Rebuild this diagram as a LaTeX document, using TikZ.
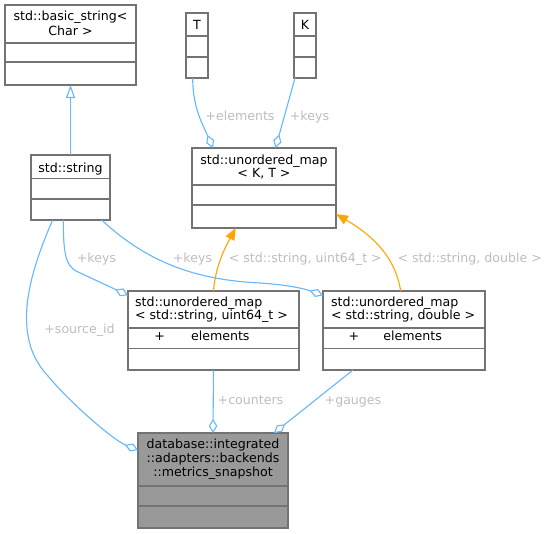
\documentclass[tikz,border=0pt]{standalone}
\usepackage{fontspec}
\setmainfont{DejaVu Sans}
\usetikzlibrary{arrows.meta,calc}
\definecolor{boxgray}{HTML}{737373}
\definecolor{boxfillgray}{HTML}{999999}
\definecolor{edgeblue}{HTML}{63B8FF}
\definecolor{tmplorange}{HTML}{FFA500}
\definecolor{labelgray}{HTML}{BEBEBE}
\newcommand{\hdivider}[2]{\draw[divline] ($(#1.north west)+(0,#2)$) -- ($(#1.north east)+(0,#2)$);}
\begin{document}
\begin{tikzpicture}[x=1pt,y=-1pt,
  box/.style={draw=boxgray, line width=1.2pt, fill=white, inner sep=0pt, outer sep=0pt, anchor=north west},
  divline/.style={draw=boxgray, line width=1.2pt},
  txt/.style={inner sep=0pt, outer sep=0pt, font=\fontsize{12.6}{13.8}\selectfont, text=black},
  ctxt/.style={txt, anchor=base},
  ltxt/.style={txt, anchor=base west},
  lbl/.style={txt, anchor=base, text=labelgray},
  agg/.style={draw=edgeblue, line width=1.1pt, -{Diamond[fill=white, length=14pt, width=8.5pt]}},
  inh/.style={draw=edgeblue, line width=1.1pt, -{Triangle[fill=white, length=13pt, width=9pt]}},
  tmpl/.style={draw=tmplorange, line width=1.1pt, -{Triangle[fill=tmplorange, length=12pt, width=9.5pt]}},
]
\fill[white] (0,0) rectangle (549,533);
\useasboundingbox (0,0) rectangle (549,533);

% boxes
\node[box, minimum width=131pt, minimum height=80pt] (bs) at (5,5) {};
\hdivider{bs}{38}\hdivider{bs}{57}
\node[ctxt] (bst1) at ($(bs.north)+(0,15.5)$) {std::basic\_string<};
\node[ctxt] (bst2) at ($(bs.north)+(0,30)$) {Char >};

\node[box, minimum width=22pt, minimum height=65pt] (tt) at (186,13) {};
\hdivider{tt}{23}\hdivider{tt}{44}
\node[ctxt] (ttt) at ($(tt.north)+(0,16)$) {T};

\node[box, minimum width=22pt, minimum height=65pt] (kk) at (294,13) {};
\hdivider{kk}{23}\hdivider{kk}{44}
\node[ctxt] (kkt) at ($(kk.north)+(0,16)$) {K};

\node[box, minimum width=79pt, minimum height=65pt] (str) at (31,155) {};
\hdivider{str}{23.5}\hdivider{str}{44}
\node[ctxt] (strt) at ($(str.north)+(0,17.3)$) {std::string};

\node[box, minimum width=144pt, minimum height=80pt] (kt) at (192,148) {};
\hdivider{kt}{37}\hdivider{kt}{57}
\node[ctxt] (ktt1) at ($(kt.north)+(0,16)$) {std::unordered\_map};
\node[ctxt] (ktt2) at ($(kt.north)+(0,29.7)$) {< K, T >};

\node[box, minimum width=171pt, minimum height=79pt] (m1) at (128,291) {};
\hdivider{m1}{37}\hdivider{m1}{57.3}
\node[ltxt] (m1t1) at ($(m1.north west)+(7,15.3)$) {std::unordered\_map};
\node[ltxt] (m1t2) at ($(m1.north west)+(7,28.7)$) {< std::string, uint64\_t >};
\node[ltxt] (m1p) at ($(m1.north west)+(26.3,49.7)$) {+};
\node[ltxt] (m1e) at ($(m1.north west)+(63,49.7)$) {elements};

\node[box, minimum width=162pt, minimum height=79pt] (m2) at (323,291) {};
\hdivider{m2}{37}\hdivider{m2}{57.3}
\node[ltxt] (m2t1) at ($(m2.north west)+(8,15.3)$) {std::unordered\_map};
\node[ltxt] (m2t2) at ($(m2.north west)+(8,28.7)$) {< std::string, double >};
\node[ltxt] (m2p) at ($(m2.north west)+(25.5,49.7)$) {+};
\node[ltxt] (m2e) at ($(m2.north west)+(60.3,49.7)$) {elements};

\node[box, fill=boxfillgray, draw=boxgray, minimum width=150pt, minimum height=95pt] (ms) at (138,433) {};
\hdivider{ms}{53}\hdivider{ms}{73}
\node[ctxt] (mst1) at ($(ms.north)+(0,15.3)$) {database::integrated};
\node[ctxt] (mst2) at ($(ms.north)+(0,29.3)$) {::adapters::backends};
\node[ctxt] (mst3) at ($(ms.north)+(0,43.5)$) {::metrics\_snapshot};

% connectors
\draw[inh] (str.north) -- (bs.south);
\draw[agg] ($(tt.south west)+(6.7,0)$) .. controls ($(tt.south west)+(6.7,30)$) and ($(kt.north west)+(11,-23)$) .. ($(kt.north west)+(21,0)$);
\draw[agg] ($(kk.south west)+(1,0)$) -- ($(kt.north west)+(83.5,0)$);
\draw[agg] ($(str.south west)+(32.3,0)$) .. controls ($(str.south west)+(32.3,35)$) and ($(str.south west)+(35,45)$) .. ($(str.south west)+(45,51)$) -- ($(m1.north west)+(0,4.3)$);
\draw[agg] ($(str.south west)+(70.7,0)$) .. controls (150,265) and (200,280) .. (260,283) .. controls (290,285) and (305,289) .. ($(m2.north west)+(0,4.3)$);
\draw[agg] ($(str.south west)+(21.7,0)$) .. controls (24,285) and (14,340) .. (48,376) .. controls (72,405) and (115,441) .. ($(ms.north west)+(0,17)$);
\draw[tmpl] (m1.north) .. controls ($(m1.north)+(2,-26)$) and ($(kt.south west)+(34,18)$) .. ($(kt.south west)+(43.7,0)$);
\draw[tmpl] ($(m2.north west)+(77.7,0)$) .. controls ($(m2.north west)+(72,-36)$) and ($(kt.north east)+(34,86)$) .. ($(kt.north east)+(0,66)$);
\draw[agg] (m1.south) -- (ms.north);
\draw[agg] ($(m2.south west)+(30,0)$) -- ($(ms.north west)+(136,0)$);

% labels
\node[lbl] (l1) at (240,120) {+elements};
\node[lbl] (l2) at (309.5,120) {+keys};
\node[lbl] (l3) at (96.5,262) {+keys};
\node[lbl] (l4) at (192.5,262) {+keys};
\node[lbl] (l5) at (305.3,262) {< std::string, uint64\_t >};
\node[lbl] (l6) at (469.7,262) {< std::string, double >};
\node[lbl] (l7) at (79.5,333) {+source\_id};
\node[lbl] (l8) at (250.5,404.5) {+counters};
\node[lbl] (l9) at (353,404.5) {+gauges};
\end{tikzpicture}
\end{document}
